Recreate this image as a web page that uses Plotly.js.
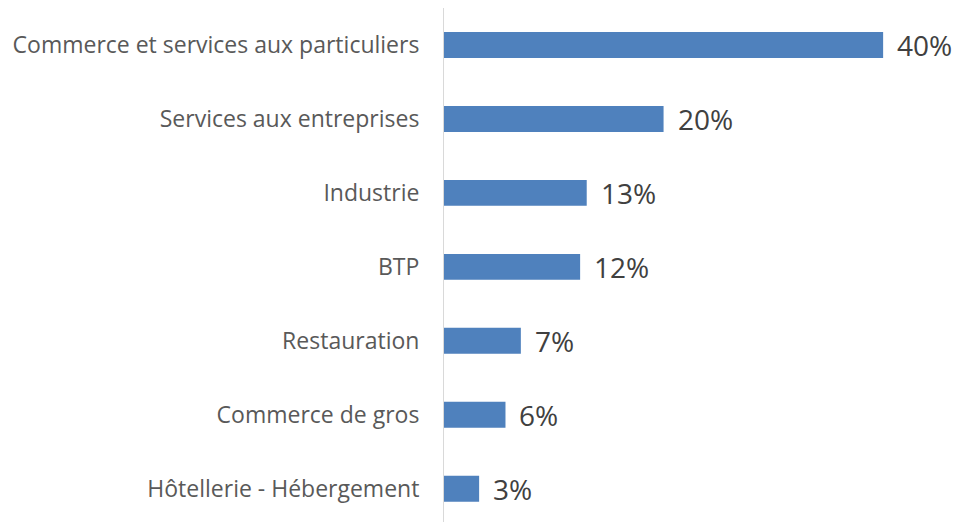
<!DOCTYPE html>
<html>
<head>
<meta charset="utf-8">
<script src="https://cdn.plot.ly/plotly-3.0.1.min.js"></script>
<style>
  body { margin: 0; background: #fff; }
  #chart { width: 958px; height: 522px; }
</style>
</head>
<body>
<div id="chart"></div>
<script>
// sectors, top to bottom
const sectors = [
    "Commerce et services aux particuliers",
    "Services aux entreprises",
    "Industrie",
    "BTP",
    "Restauration",
    "Commerce de gros",
    "Hôtellerie - Hébergement"
];
// share of companies (%)
const shares = [40, 20, 13, 12.4, 7, 5.6, 3.2];
// labels printed next to the bars
const shareLabels = ["40%", "20%", "13%", "12%", "7%", "6%", "3%"];

const trace = {
    type: "bar",
    orientation: "h",
    x: shares,
    y: sectors,
    marker: { color: "#4f81bd" },
    hoverinfo: "skip"
};

// value labels, a bit away from the bar end
const labels = shares.map((v, i) => ({
    x: v,
    y: sectors[i],
    xref: "x",
    yref: "y",
    text: shareLabels[i],
    showarrow: false,
    xanchor: "left",
    yanchor: "middle",
    xshift: 12,
    font: { family: "Open Sans, sans-serif", size: 28, color: "#404040" }
}));

const layout = {
    width: 958,
    height: 522,
    margin: { l: 444, r: 9, t: 8, b: 0 },
    paper_bgcolor: "#ffffff",
    plot_bgcolor: "#ffffff",
    showlegend: false,
    bargap: 0.65,
    annotations: labels,
    xaxis: {
        range: [0, 46],
        showgrid: false,
        zeroline: false,
        showticklabels: false,
        showline: false,
        fixedrange: true
    },
    yaxis: {
        type: "category",
        range: [6.45, -0.5],
        showgrid: false,
        zeroline: false,
        showline: true,
        linecolor: "#d9d9d9",
        linewidth: 1,
        ticks: "outside",
        ticklen: 19,
        tickcolor: "rgba(0,0,0,0)",
        tickfont: { family: "Open Sans, sans-serif", size: 23, color: "#595959" },
        fixedrange: true
    }
};

Plotly.newPlot("chart", [trace], layout, { displayModeBar: false, staticPlot: true });
</script>
</body>
</html>
